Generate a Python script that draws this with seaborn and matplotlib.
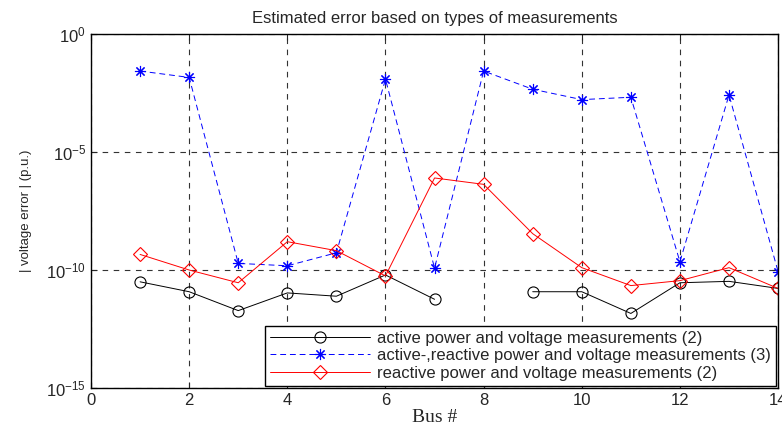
import numpy as np
import pandas as pd
import matplotlib
matplotlib.use("Agg")
import matplotlib.pyplot as plt
import seaborn as sns

bus = list(range(1, 15))
# log10 of |voltage error|
active_log = [-10.50, -10.92, -11.72, -10.97, -11.11, -10.21, -11.24, np.nan,
              -10.92, -10.92, -11.84, -10.54, -10.48, -10.78]
both_log = [-1.57, -1.84, -9.72, -9.82, -9.27, -1.91, -9.92, -1.57,
            -2.34, -2.78, -2.68, -9.65, -2.58, -10.07]
reactive_log = [-9.34, -10.0, -10.54, -8.80, -9.18, -10.25, -6.10, -6.37,
                -8.46, -9.90, -10.66, -10.45, -9.90, -10.78]

labels = ["active power and voltage measurements (2)",
          "active-,reactive power and voltage measurements (3)",
          "reactive power and voltage measurements (2)"]

sns.set_style("ticks")
plt.rcParams["font.family"] = ["Liberation Sans", "DejaVu Sans"]
plt.rcParams["mathtext.fontset"] = "custom"
plt.rcParams["mathtext.rm"] = "Liberation Sans"
plt.rcParams["mathtext.it"] = "Liberation Sans:italic"

df = pd.DataFrame({
    "bus": bus,
    "active": 10.0 ** np.array(active_log),
    "both": 10.0 ** np.array(both_log),
    "reactive": 10.0 ** np.array(reactive_log),
})
df["seg"] = np.where(df["bus"] < 8, 0, 1)

fig = plt.figure(figsize=(7.82, 4.25), dpi=100)
ax = fig.add_axes([0.1164, 0.087, 0.8786, 0.833])

ms = 8
act = df.dropna(subset=["active"])
for i, (seg, part) in enumerate(act.groupby("seg")):
    sns.lineplot(data=part, x="bus", y="active", ax=ax, color="black", lw=0.7,
                 marker="o", markersize=ms, markerfacecolor="none",
                 markeredgecolor="black", markeredgewidth=0.8,
                 label=labels[0] if i == 0 else None)
sns.lineplot(data=df, x="bus", y="both", ax=ax, color="blue", lw=0.7,
             marker=(8, 2, 0), markersize=ms, markeredgecolor="blue",
             markeredgewidth=0.8, label=labels[1])
ax.lines[-1].set_dashes([6, 4])
sns.lineplot(data=df, x="bus", y="reactive", ax=ax, color="red", lw=0.7,
             marker="D", markersize=ms - 1, markerfacecolor="none",
             markeredgecolor="red", markeredgewidth=0.8, label=labels[2])

ax.set_yscale("log")
ax.set_xlim(0, 14)
ax.set_ylim(1e-15, 1)
ax.set_xticks(range(0, 15, 2))
ax.set_yticks([1e-15, 1e-10, 1e-5, 1])
ax.minorticks_off()
ax.tick_params(direction="in", top=True, right=True, labelsize=12, length=4)
ax.grid(True, ls=(0, (5, 5)), color="0.2", lw=0.8)

for s in ax.spines.values():
    s.set_linewidth(1.0)
    s.set_color("black")

ax.set_title("Estimated error based on types of measurements", fontsize=12, pad=8)
ax.set_xlabel("Bus #", fontsize=14, family="Liberation Serif", labelpad=1)
ax.set_ylabel("| voltage error | (p.u.)", fontsize=9.5, labelpad=10)

leg = ax.legend(loc="lower right", fontsize=12, frameon=True, fancybox=False,
                edgecolor="black", borderaxespad=0.15, handlelength=6,
                handletextpad=0.4, labelspacing=0.15, borderpad=0.3)
leg.get_frame().set_linewidth(1.0)
leg.get_frame().set_alpha(1)

fig.savefig("out.png", dpi=100)
